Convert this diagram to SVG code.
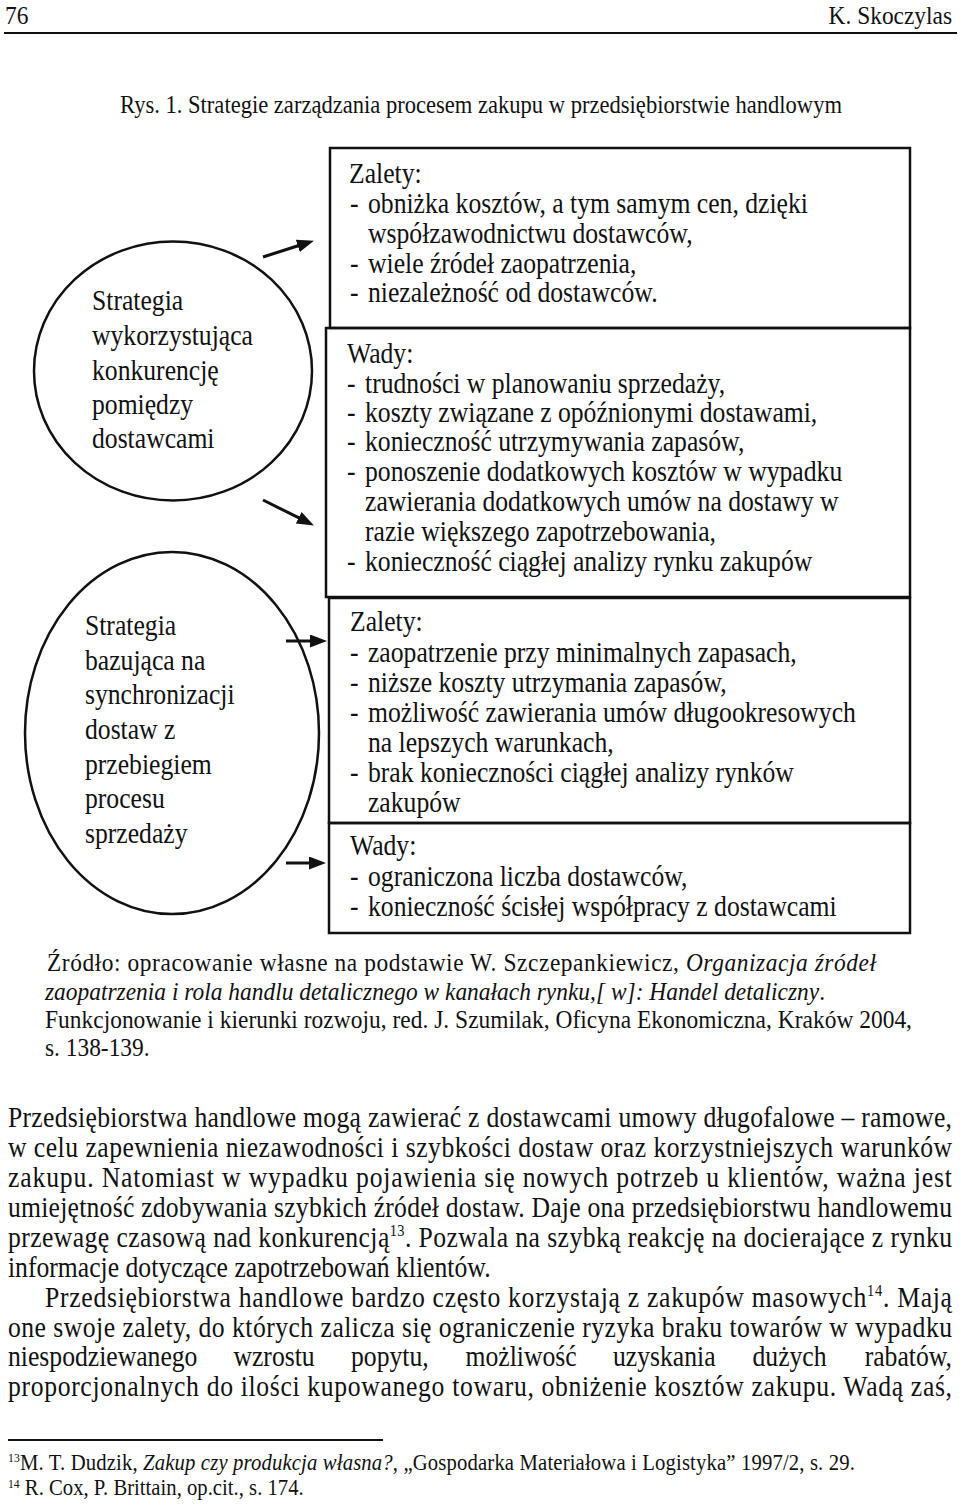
<svg xmlns="http://www.w3.org/2000/svg" width="960" height="1505" viewBox="0 0 960 1505">
<style>
text{font-family:"Liberation Serif","Times New Roman",serif;fill:#111;}
.b{font-size:28.5px;}
.s{font-size:26px;}
.f{font-size:23px;}
.i{font-style:italic;}
.sh{fill:none;stroke:#111;stroke-width:2.5;}
.ar{fill:none;stroke:#111;stroke-width:3;marker-end:url(#ah);}
</style>
<defs>
<marker id="ah" markerUnits="userSpaceOnUse" markerWidth="18" markerHeight="14" refX="2" refY="6.5" orient="auto">
<path d="M0,0 L17,6.5 L0,13 z" fill="#111"/>
</marker>
</defs>
<rect width="960" height="1505" fill="#fff"/>

<g id="header">
<g transform="scale(0.9,1)">
<text x="5.56" y="24" font-size="26">76</text>
<text x="1057.8" y="24" font-size="26" text-anchor="end">K. Skoczylas</text>
</g>
<line x1="4" y1="33" x2="957" y2="33" stroke="#111" stroke-width="2"/>
<text x="481" y="113" font-size="26" text-anchor="middle" textLength="722" lengthAdjust="spacingAndGlyphs">Rys. 1. Strategie zarządzania procesem zakupu w przedsiębiorstwie handlowym</text>
</g>

<g id="strategy1">
<ellipse class="sh" cx="173" cy="371" rx="139" ry="129.5"/>
<g transform="scale(0.9,1)">
<text class="b" x="102.22" y="310">Strategia</text>
<text class="b" x="102.22" y="345">wykorzystująca</text>
<text class="b" x="102.22" y="380">konkurencję</text>
<text class="b" x="102.22" y="414">pomiędzy</text>
<text class="b" x="102.22" y="448">dostawcami</text>
</g>
</g>

<g id="strategy2">
<ellipse class="sh" cx="172" cy="733" rx="147" ry="181"/>
<g transform="scale(0.9,1)">
<text class="b" x="94.44" y="635">Strategia</text>
<text class="b" x="94.44" y="670">bazująca na</text>
<text class="b" x="94.44" y="704">synchronizacji</text>
<text class="b" x="94.44" y="739">dostaw z</text>
<text class="b" x="94.44" y="774">przebiegiem</text>
<text class="b" x="94.44" y="808">procesu</text>
<text class="b" x="94.44" y="843">sprzedaży</text>
</g>
</g>

<g id="pros1">
<rect class="sh" x="330" y="148" width="580" height="180"/>
<g transform="scale(0.9,1)">
<text class="b" x="387.78" y="183">Zalety:</text>
<text class="b" x="388.89" y="213">-</text><text class="b" x="408.89" y="213">obniżka kosztów, a tym samym cen, dzięki</text>
<text class="b" x="408.89" y="243">współzawodnictwu dostawców,</text>
<text class="b" x="388.89" y="273">-</text><text class="b" x="408.89" y="273">wiele źródeł zaopatrzenia,</text>
<text class="b" x="388.89" y="302">-</text><text class="b" x="408.89" y="302">niezależność od dostawców.</text>
</g>
</g>

<g id="cons1">
<rect class="sh" x="326" y="328" width="584" height="269"/>
<g transform="scale(0.9,1)">
<text class="b" x="385.56" y="363">Wady:</text>
<text class="b" x="385.56" y="393">-</text><text class="b" x="405.56" y="393">trudności w planowaniu sprzedaży,</text>
<text class="b" x="385.56" y="422">-</text><text class="b" x="405.56" y="422">koszty związane z opóźnionymi dostawami,</text>
<text class="b" x="385.56" y="451">-</text><text class="b" x="405.56" y="451">konieczność utrzymywania zapasów,</text>
<text class="b" x="385.56" y="481">-</text><text class="b" x="405.56" y="481">ponoszenie dodatkowych kosztów w wypadku</text>
<text class="b" x="405.56" y="511">zawierania dodatkowych umów na dostawy w</text>
<text class="b" x="405.56" y="541">razie większego zapotrzebowania,</text>
<text class="b" x="385.56" y="571">-</text><text class="b" x="405.56" y="571">konieczność ciągłej analizy rynku zakupów</text>
</g>
</g>

<g id="pros2">
<rect class="sh" x="329" y="598" width="581" height="225"/>
<g transform="scale(0.9,1)">
<text class="b" x="388.89" y="631">Zalety:</text>
<text class="b" x="388.89" y="662">-</text><text class="b" x="408.89" y="662">zaopatrzenie przy minimalnych zapasach,</text>
<text class="b" x="388.89" y="692">-</text><text class="b" x="408.89" y="692">niższe koszty utrzymania zapasów,</text>
<text class="b" x="388.89" y="722">-</text><text class="b" x="408.89" y="722">możliwość zawierania umów długookresowych</text>
<text class="b" x="408.89" y="752">na lepszych warunkach,</text>
<text class="b" x="388.89" y="782">-</text><text class="b" x="408.89" y="782">brak konieczności ciągłej analizy rynków</text>
<text class="b" x="408.89" y="812">zakupów</text>
</g>
</g>

<g id="cons2">
<rect class="sh" x="329" y="823" width="581" height="110"/>
<g transform="scale(0.9,1)">
<text class="b" x="388.89" y="855">Wady:</text>
<text class="b" x="388.89" y="886">-</text><text class="b" x="408.89" y="886">ograniczona liczba dostawców,</text>
<text class="b" x="388.89" y="916">-</text><text class="b" x="408.89" y="916">konieczność ścisłej współpracy z dostawcami</text>
</g>
</g>

<g id="connectors">
<line class="ar" x1="263" y1="257" x2="299.7" y2="245.3"/>
<line class="ar" x1="263" y1="500" x2="300.5" y2="518.7"/>
<line class="ar" x1="286" y1="641" x2="312" y2="641"/>
<line class="ar" x1="286" y1="863" x2="311" y2="863"/>
</g>

<g id="source" transform="scale(0.9,1)">
<text class="s" x="52.22" y="971" textLength="921.1" lengthAdjust="spacing">Źródło: opracowanie własne na podstawie W. Szczepankiewicz, <tspan class="i">Organizacja źródeł</tspan></text>
<text class="s" x="50" y="1000" textLength="866.7" lengthAdjust="spacing"><tspan class="i">zaopatrzenia i rola handlu detalicznego w kanałach rynku,[ w]: Handel detaliczny</tspan>.</text>
<text class="s" x="50" y="1028" textLength="963.3" lengthAdjust="spacing">Funkcjonowanie i kierunki rozwoju, red. J. Szumilak, Oficyna Ekonomiczna, Kraków 2004,</text>
<text class="s" x="50" y="1056">s. 138-139.</text>
</g>

<g id="body" transform="scale(0.9,1)">
<text class="b" x="8.89" y="1127" textLength="1048.9" lengthAdjust="spacing">Przedsiębiorstwa handlowe mogą zawierać z dostawcami umowy długofalowe – ramowe,</text>
<text class="b" x="8.89" y="1157" textLength="1048.9" lengthAdjust="spacing">w celu zapewnienia niezawodności i szybkości dostaw oraz korzystniejszych warunków</text>
<text class="b" x="8.89" y="1187" textLength="1048.9" lengthAdjust="spacing">zakupu. Natomiast w wypadku pojawienia się nowych potrzeb u klientów, ważna jest</text>
<text class="b" x="8.89" y="1217" textLength="1048.9" lengthAdjust="spacing">umiejętność zdobywania szybkich źródeł dostaw. Daje ona przedsiębiorstwu handlowemu</text>
<text class="b" x="8.89" y="1247" textLength="1048.9" lengthAdjust="spacing">przewagę czasową nad konkurencją<tspan font-size="16" dy="-11">13</tspan><tspan dy="11">. Pozwala na szybką reakcję na docierające z rynku</tspan></text>
<text class="b" x="8.89" y="1277">informacje dotyczące zapotrzebowań klientów.</text>
<text class="b" x="50" y="1307" textLength="1007.8" lengthAdjust="spacing">Przedsiębiorstwa handlowe bardzo często korzystają z zakupów masowych<tspan font-size="16" dy="-11">14</tspan><tspan dy="11">. Mają</tspan></text>
<text class="b" x="8.89" y="1337" textLength="1048.9" lengthAdjust="spacing">one swoje zalety, do których zalicza się ograniczenie ryzyka braku towarów w wypadku</text>
<text class="b" y="1366"><tspan x="8.89">niespodziewanego</tspan><tspan x="259.4">wzrostu</tspan><tspan x="390">popytu,</tspan><tspan x="517.2">możliwość</tspan><tspan x="681.1">uzyskania</tspan><tspan x="836.1">dużych</tspan></text>
<text class="b" x="1057.8" y="1366" text-anchor="end">rabatów,</text>
<text class="b" x="8.89" y="1396" textLength="1048.9" lengthAdjust="spacing">proporcjonalnych do ilości kupowanego towaru, obniżenie kosztów zakupu. Wadą zaś,</text>
</g>

<g id="footnotes">
<line x1="8" y1="1440" x2="383" y2="1440" stroke="#111" stroke-width="2"/>
<g transform="scale(0.9,1)">
<text class="f" x="8.89" y="1470" textLength="941" lengthAdjust="spacing"><tspan font-size="13" dy="-8">13</tspan><tspan dy="8">M. T.  Dudzik, </tspan><tspan class="i">Zakup czy produkcja własna?</tspan>, „Gospodarka Materiałowa i Logistyka” 1997/2, s. 29.</text>
<text class="f" x="8.89" y="1495"><tspan font-size="13" dy="-7">14</tspan><tspan dy="7"> R. Cox, P. Brittain, op.cit., s. 174.</tspan></text>
</g>
</g>
</svg>
